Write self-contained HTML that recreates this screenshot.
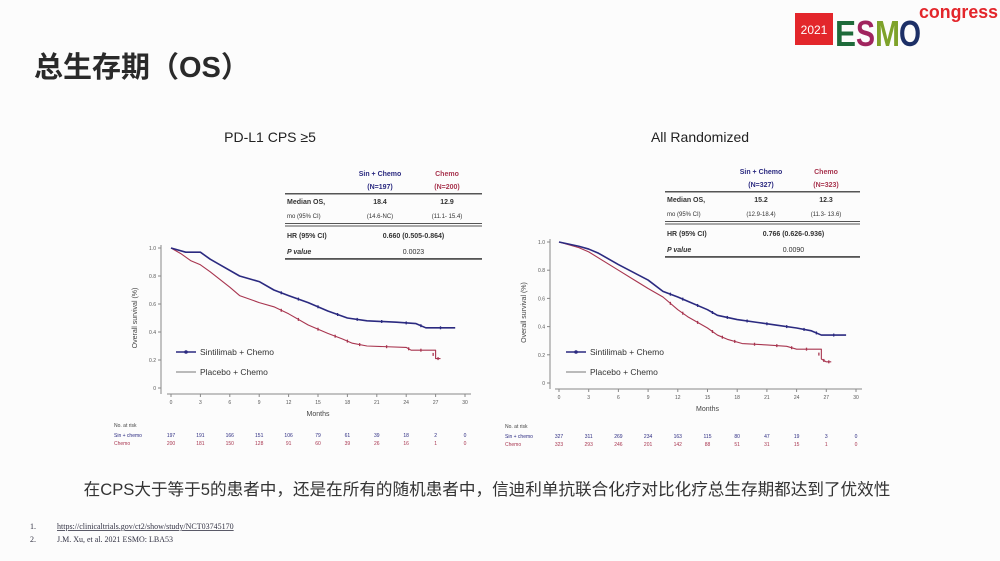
<!DOCTYPE html>
<html><head><meta charset="utf-8"><style>
html,body{margin:0;padding:0;background:#fcfcfc;}
svg{display:block;font-family:"Liberation Sans","Noto Sans CJK SC",sans-serif;}
</style></head><body>
<svg id="s" width="1000" height="561" viewBox="0 0 1000 561">
<rect x="0" y="0" width="1000" height="561" fill="#fcfcfc"/>
<text x="34" y="77" font-size="29" font-weight="bold" fill="#2a2a2a" font-family="Liberation Sans,Noto Sans CJK SC,sans-serif">总生存期（OS）</text>
<g>
<rect x="795" y="13" width="38" height="32" fill="#e3262b"/>
<text x="814" y="34" font-size="12" fill="#fff" text-anchor="middle">2021</text>
<text x="835" y="46" font-size="36" font-weight="bold" fill="#1e6b3a" textLength="21" lengthAdjust="spacingAndGlyphs">E</text>
<text x="856" y="46" font-size="36" font-weight="bold" fill="#a0245e" textLength="19" lengthAdjust="spacingAndGlyphs">S</text>
<text x="875" y="46" font-size="36" font-weight="bold" fill="#7ea22a" textLength="25" lengthAdjust="spacingAndGlyphs">M</text>
<text x="899" y="46" font-size="36" font-weight="bold" fill="#1c2f66" textLength="22" lengthAdjust="spacingAndGlyphs">O</text>
<text x="919" y="18" font-size="18" font-weight="bold" fill="#e3262b" textLength="79" lengthAdjust="spacingAndGlyphs">congress</text>
</g>
<text x="270" y="142" font-size="14" fill="#222" text-anchor="middle">PD-L1 CPS ≥5</text>
<text x="700" y="142" font-size="14" fill="#222" text-anchor="middle">All Randomized</text>
<text x="487" y="495" font-size="16.6" fill="#333" text-anchor="middle" font-family="Liberation Sans,Noto Sans CJK SC,sans-serif">在CPS大于等于5的患者中，还是在所有的随机患者中，信迪利单抗联合化疗对比化疗总生存期都达到了优效性</text>
<g font-family="Liberation Serif,serif" font-size="8" fill="#334">
<text x="30" y="529">1.</text>
<text x="57" y="529" text-decoration="underline">https://clinicaltrials.gov/ct2/show/study/NCT03745170</text>
<text x="30" y="542">2.</text>
<text x="57" y="542">J.M. Xu, et al. 2021 ESMO: LBA53</text>
</g>
</svg>
<script>
// ---- data ----
const monthTicks = [0,3,6,9,12,15,18,21,24,27,30];
const yTicks = [0,0.2,0.4,0.6,0.8,1.0];
const leftSinT = [0,1.5,3,4,5,7,9,10.5,12,14,16,18,20,23,25,26,29];
const leftSinS = [1,0.97,0.97,0.92,0.88,0.80,0.76,0.70,0.66,0.61,0.55,0.50,0.48,0.47,0.46,0.43,0.43];
const leftChemoT = [0,1,2,3,4,6,7,9,10.5,12,14,16,17.5,18.5,20,24,24.5,26.5,27,27.5];
const leftChemoS = [1,0.96,0.91,0.88,0.83,0.72,0.66,0.61,0.58,0.53,0.45,0.39,0.35,0.32,0.30,0.29,0.27,0.27,0.21,0.21];
const rightSinT = [0,2,3,4,6,9,10.5,12,13,15,16,18,20,22,24,25.5,26.5,29];
const rightSinS = [1,0.97,0.95,0.92,0.84,0.73,0.65,0.61,0.58,0.52,0.48,0.45,0.43,0.41,0.39,0.37,0.34,0.34];
const rightChemoT = [0,2,3,6,9,10.5,12,13,15,16,17,18.5,21,23,24,26,26.5,27,27.5];
const rightChemoS = [1,0.96,0.93,0.80,0.67,0.61,0.52,0.47,0.39,0.34,0.31,0.28,0.27,0.26,0.24,0.24,0.17,0.15,0.15];
const leftRiskSin = [197,191,166,151,106,79,61,39,18,2,0];
const leftRiskChemo = [200,181,150,128,91,60,39,26,16,1,0];
const rightRiskSin = [327,311,269,234,163,115,80,47,19,3,0];
const rightRiskChemo = [323,293,246,201,142,88,51,31,15,1,0];
const leftStats = ["18.4","12.9","(14.6-NC)","(11.1- 15.4)","0.660 (0.505-0.864)","0.0023"];
const rightStats = ["15.2","12.3","(12.9-18.4)","(11.3- 13.6)","0.766 (0.626-0.936)","0.0090"];
const leftN = ["(N=197)","(N=200)"];
const rightN = ["(N=327)","(N=323)"];

const NS="http://www.w3.org/2000/svg";
const svg=document.getElementById('s');
function mk(tag,attrs,parent,text){const e=document.createElementNS(NS,tag);for(const k in attrs)e.setAttribute(k,attrs[k]);if(text!==undefined)e.textContent=text;(parent||svg).appendChild(e);return e;}
const BLUE="#2b2a80", RED="#a8354f";

function drawChart(key,cfg,sinT,sinS,chT,chS,riskSin,riskCh){
  const g=mk('g',{});
  
  
  const X=m=>cfg.x0+(cfg.x1-cfg.x0)*m/30;
  const Y=v=>cfg.y0-(cfg.y0-cfg.y1)*v;
  const ax=mk('path',{d:`M${cfg.ax} ${cfg.y1-3} V${cfg.axy} M${cfg.x0-4} ${cfg.axy} H${cfg.x1+6}`,stroke:'#888',fill:'none','stroke-width':1},g);
  
  
  yTicks.forEach(v=>{
    mk('line',{x1:cfg.ax-3,x2:cfg.ax,y1:Y(v),y2:Y(v),stroke:'#888'},g);
    const t=mk('text',{x:cfg.ax-5,y:Y(v)+2,'font-size':5,'text-anchor':'end',fill:'#555'},g,v===0?'0':v.toFixed(1));
    
    
  });
  monthTicks.forEach(m=>{
    mk('line',{x1:X(m),x2:X(m),y1:cfg.axy,y2:cfg.axy+3,stroke:'#888'},g);
    const t=mk('text',{x:X(m),y:cfg.axy+10,'font-size':5,'text-anchor':'middle',fill:'#555'},g,String(m));
    
    
  });
  const xt=mk('text',{x:(cfg.x0+cfg.x1)/2,y:cfg.axy+22,'font-size':7,'text-anchor':'middle',fill:'#444'},g,'Months');
  
  
  const yt=mk('text',{x:0,y:0,'font-size':7,'text-anchor':'middle',fill:'#444',transform:`translate(${cfg.ax-24},${(cfg.y0+cfg.y1)/2}) rotate(-90)`},g,'Overall survival (%)');
  
  
  function curve(T,S,col,w,name){
    let d=`M${X(T[0])} ${Y(S[0])}`;
    for(let i=1;i<T.length;i++){
      if(S[i]===S[i-1]) d+=` L${X(T[i])} ${Y(S[i])}`;
      else if(S[i-1]-S[i]>0.04 && T[i]-T[i-1]<0.8) d+=` H${X(T[i])} V${Y(S[i])}`;
      else d+=` L${X(T[i])} ${Y(S[i])}`;
    }
    const p=mk('path',{d:d,stroke:col,fill:'none','stroke-width':w,'stroke-linejoin':'round'},g);
    
    
    for(let i=0;i<T.length-1;i++){ if(T[i]>=10){
      const mx=(X(T[i])+X(T[i+1]))/2, my=(Y(S[i])+Y(S[i+1]))/2;
      mk('line',{x1:mx,x2:mx,y1:my-1.5,y2:my+1.5,stroke:col,'stroke-width':1.3},g);} }
  }
  curve(chT,chS,RED,1.1,key+'-placebo-chemo-curve');
  curve(sinT,sinS,BLUE,1.6,key+'-sintilimab-chemo-curve');
  const lg=mk('g',{},g);
  
  
  mk('line',{x1:cfg.lx,x2:cfg.lx+20,y1:352,y2:352,stroke:BLUE,'stroke-width':1.6},lg);
  mk('circle',{cx:cfg.lx+10,cy:352,r:1.8,fill:BLUE},lg);
  mk('text',{x:cfg.lx+24,y:355,'font-size':8.5,fill:'#333'},lg,'Sintilimab + Chemo');
  mk('line',{x1:cfg.lx,x2:cfg.lx+20,y1:372,y2:372,stroke:'#777','stroke-width':1},lg);
  mk('text',{x:cfg.lx+24,y:375,'font-size':8.5,fill:'#333'},lg,'Placebo + Chemo');
  const rg=mk('g',{'font-size':5},g);
  
  
  mk('text',{x:cfg.rx,y:cfg.ry,fill:'#444'},rg,'No. at risk');
  mk('text',{x:cfg.rx,y:cfg.ry+10,fill:BLUE},rg,'Sin + chemo');
  mk('text',{x:cfg.rx,y:cfg.ry+18,fill:RED},rg,'Chemo');
  monthTicks.forEach((m,i)=>{
    mk('text',{x:X(m),y:cfg.ry+10,'text-anchor':'middle',fill:BLUE},rg,String(riskSin[i]));
    mk('text',{x:X(m),y:cfg.ry+18,'text-anchor':'middle',fill:RED},rg,String(riskCh[i]));
  });
}
function drawTable(key,t,stats,ns){
  const g=mk('g',{'font-size':7,fill:'#333'});
  
  
  mk('text',{x:t.c1,y:t.y+8,'text-anchor':'middle',fill:BLUE,'font-weight':'bold'},g,'Sin + Chemo');
  mk('text',{x:t.c2,y:t.y+8,'text-anchor':'middle',fill:RED,'font-weight':'bold'},g,'Chemo');
  mk('text',{x:t.c1,y:t.y+21,'text-anchor':'middle',fill:BLUE,'font-weight':'bold'},g,ns[0]);
  mk('text',{x:t.c2,y:t.y+21,'text-anchor':'middle',fill:RED,'font-weight':'bold'},g,ns[1]);
  mk('rect',{x:t.x0,y:t.y+25,width:t.x1-t.x0,height:1.5,fill:'#555'},g);
  mk('text',{x:t.x0+2,y:t.y+36,'font-weight':'bold'},g,'Median OS,');
  mk('text',{x:t.x0+2,y:t.y+50,'font-size':6},g,'mo (95% CI)');
  mk('text',{x:t.c1,y:t.y+36,'text-anchor':'middle','font-weight':'bold'},g,stats[0]);
  mk('text',{x:t.c2,y:t.y+36,'text-anchor':'middle','font-weight':'bold'},g,stats[1]);
  mk('text',{x:t.c1,y:t.y+50,'text-anchor':'middle','font-size':6},g,stats[2]);
  mk('text',{x:t.c2,y:t.y+50,'text-anchor':'middle','font-size':6},g,stats[3]);
  mk('rect',{x:t.x0,y:t.y+55,width:t.x1-t.x0,height:1,fill:'#555'},g);
  mk('rect',{x:t.x0,y:t.y+57.5,width:t.x1-t.x0,height:1,fill:'#555'},g);
  mk('text',{x:t.x0+2,y:t.y+70,'font-weight':'bold'},g,'HR (95% CI)');
  mk('text',{x:(t.c1+t.c2)/2,y:t.y+70,'text-anchor':'middle','font-weight':'bold'},g,stats[4]);
  mk('text',{x:t.x0+2,y:t.y+86,'font-weight':'bold','font-style':'italic'},g,'P value');
  mk('text',{x:(t.c1+t.c2)/2,y:t.y+86,'text-anchor':'middle'},g,stats[5]);
  mk('rect',{x:t.x0,y:t.y+90,width:t.x1-t.x0,height:1.8,fill:'#555'},g);
}
drawTable('left',{x0:285,x1:482,c1:380,c2:447,y:168},leftStats,leftN);
drawTable('right',{x0:665,x1:860,c1:761,c2:826,y:166},rightStats,rightN);
drawChart('left',{x0:171,x1:465,y0:388,y1:248,ax:161,axy:394,lx:176,rx:114,ry:427},leftSinT,leftSinS,leftChemoT,leftChemoS,leftRiskSin,leftRiskChemo);
drawChart('right',{x0:559,x1:856,y0:383,y1:242,ax:550,axy:389,lx:566,rx:505,ry:428},rightSinT,rightSinS,rightChemoT,rightChemoS,rightRiskSin,rightRiskChemo);
</script>
</body></html>
